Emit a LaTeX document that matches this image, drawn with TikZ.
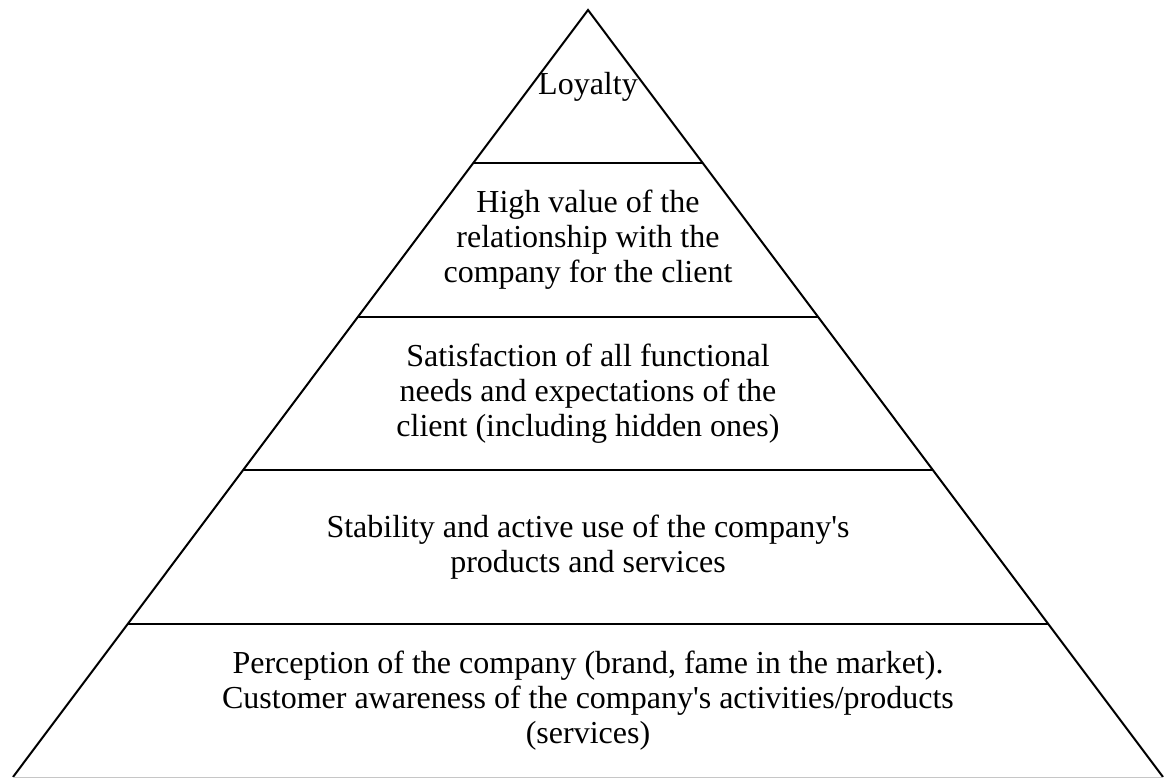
\documentclass[tikz,border=0pt]{standalone}
\usepackage{fontspec}
\setmainfont{Liberation Serif}
\usetikzlibrary{calc}

\begin{document}
\begin{tikzpicture}[
    x=1pt, y=-1pt,
    every node/.style={
      font=\fontsize{32}{35}\selectfont, align=center, inner sep=0pt
    },
    side/.style={
      line width=2pt
    }
    ]
  \useasboundingbox (0,0) rectangle (1165,778);
  \coordinate (apex) at (588,10);
  \coordinate (bl) at (13,777);
  \coordinate (br) at (1163,777);
  \coordinate (base) at ($(bl)!0.5!(br)$);

  % outline
  \draw[side] (bl) -- (apex) -- (br);
  \draw[gray!45, line width=1pt] (bl) -- (br);

  % level borders
  \foreach \t in {0.2,0.4,0.6,0.8}
    \draw[side] ($(apex)!\t!(bl)$) -- ($(apex)!\t!(br)$);

  \node (lvl1) at ($(apex)!0.1!(base)$) {Loyalty};
  \node (lvl2) at ($(apex)!0.3!(base)$) {High value of the\\relationship with the\\company for the client};
  \node (lvl3) at ($(apex)!0.5!(base)$) {Satisfaction of all functional\\needs and expectations of the\\client (including hidden ones)};
  \node (lvl4) at ($(apex)!0.7!(base)$) {Stability and active use of the company\textquotesingle s\\products and services};
  \node (lvl5) at ($(apex)!0.9!(base)$) {Perception of the company (brand, fame in the market).\\Customer awareness of the company\textquotesingle s activities/products\\(services)};
\end{tikzpicture}
\end{document}
